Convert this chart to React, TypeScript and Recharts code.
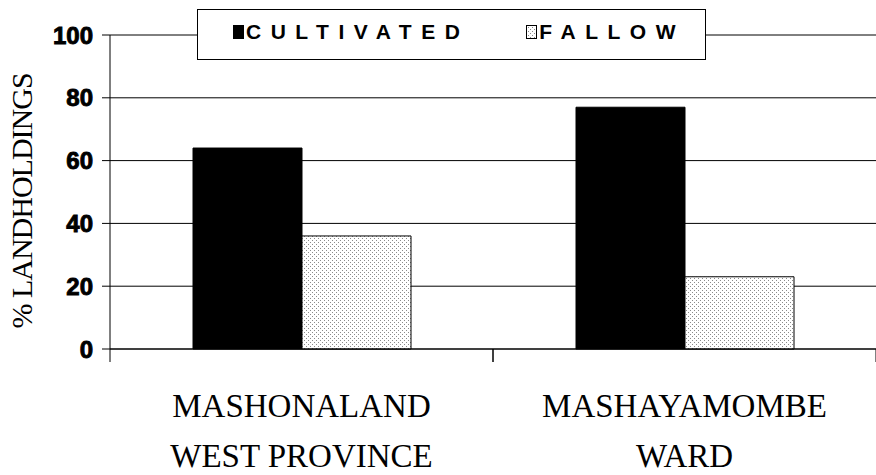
import { BarChart, Bar, XAxis, YAxis, CartesianGrid, Legend } from 'recharts';

const regions = [['MASHONALAND', 'WEST PROVINCE'], ['MASHAYAMOMBE', 'WARD']];
const cultivated = [64, 77];
const fallow = [36, 23];
const yTicks = [0, 20, 40, 60, 80, 100];

const data = regions.map((r, i) => ({ name: r.join(' '), lines: r, cultivated: cultivated[i], fallow: fallow[i] }));

const W = 876;
const H = 475;
const Y_AXIS_W = 110;
const BAND = (W - Y_AXIS_W) / regions.length;
const SERIF = "Liberation Serif, Times New Roman, serif";

function RegionTick(props: any) {
    const { x, y, index } = props;
    const lines = regions[index] || [];
    return (
        <g>
            <line x1={x - BAND / 2} x2={x - BAND / 2} y1={y - 13} y2={y} stroke="#000" />
            <line x1={x + BAND / 2} x2={x + BAND / 2} y1={y - 13} y2={y} stroke="#000" />
            {lines.map((t, i) => (
                <text key={i} x={x} y={y + 55 + i * 50} textAnchor="middle"
                    fontFamily={SERIF} fontSize={33} fill="#000">
                    {t}
                </text>
            ))}
        </g>
    );
}

function LegendBox({ payload }: any) {
    return (
        <div style={{
            width: 509, height: 51, boxSizing: 'border-box', border: '1px solid #000', background: '#fff',
            display: 'flex', alignItems: 'center', paddingLeft: 35, paddingBottom: 6,
            fontFamily: "'Liberation Sans', Arial, sans-serif", fontWeight: 'bold', fontSize: 21, letterSpacing: 9.5,
        }}>
            {(payload || []).map((p: any, i: number) => (
                <span key={i} style={{ display: 'inline-flex', alignItems: 'center', marginRight: i === 0 ? 57 : 0 }}>
                    <svg width={11} height={14} style={{ marginRight: 2 }}>
                        <rect x={0.5} y={0.5} width={10} height={13}
                            fill={p.dataKey === 'fallow' ? 'url(#dots)' : '#000'} stroke="#000" />
                    </svg>
                    {p.value}
                </span>
            ))}
        </div>
    );
}

export default function App() {
    return (
        <div style={{ position: 'absolute', left: 0, top: 0, width: W, height: H, background: '#fff' }}>
            <BarChart width={W} height={H} data={data} margin={{ top: 35, right: 0, left: 0, bottom: 0 }}
                barCategoryGap={83} barGap={0}>
                <defs>
                    <pattern id="dots" width="4" height="4" patternUnits="userSpaceOnUse">
                        <rect width="4" height="4" fill="#fff" />
                        <rect x="0" y="0" width="1" height="1" fill="#8a8a8a" />
                        <rect x="2" y="2" width="1" height="1" fill="#8a8a8a" />
                    </pattern>
                </defs>
                <CartesianGrid vertical={false} stroke="#000" />
                <XAxis dataKey="name" height={126} axisLine={{ stroke: '#000' }} tickLine={false}
                    tickSize={13} tickMargin={0} interval={0} tick={<RegionTick />} />
                <YAxis width={Y_AXIS_W} domain={[0, 100]} ticks={yTicks} interval={0}
                    axisLine={{ stroke: '#000' }} tickLine={{ stroke: '#000' }} tickSize={8} tickMargin={9}
                    tick={{ fill: '#000', fontSize: 24, fontWeight: 'bold', stroke: '#000', strokeWidth: 0.9,
                        fontFamily: "'Liberation Sans', Arial, sans-serif" }}
                    label={({ viewBox }: any) => (
                        <text x={32} y={viewBox.y + viewBox.height / 2 + 9} transform={`rotate(-90, 32, ${viewBox.y + viewBox.height / 2 + 9})`}
                            textAnchor="middle" fontFamily={SERIF} fontSize={30}
                            letterSpacing={-1} fill="#000">
                            % LANDHOLDINGS
                        </text>
                    )} />
                <Legend layout="vertical" align="center" verticalAlign="middle" content={<LegendBox />}
                    wrapperStyle={{ position: 'absolute', left: 197, top: 9, width: 509, height: 51 }} />
                <Bar dataKey="cultivated" name="CULTIVATED" fill="#000" stroke="#000" isAnimationActive={false} />
                <Bar dataKey="fallow" name="FALLOW" fill="url(#dots)" stroke="#000" isAnimationActive={false} />
            </BarChart>
        </div>
    );
}
